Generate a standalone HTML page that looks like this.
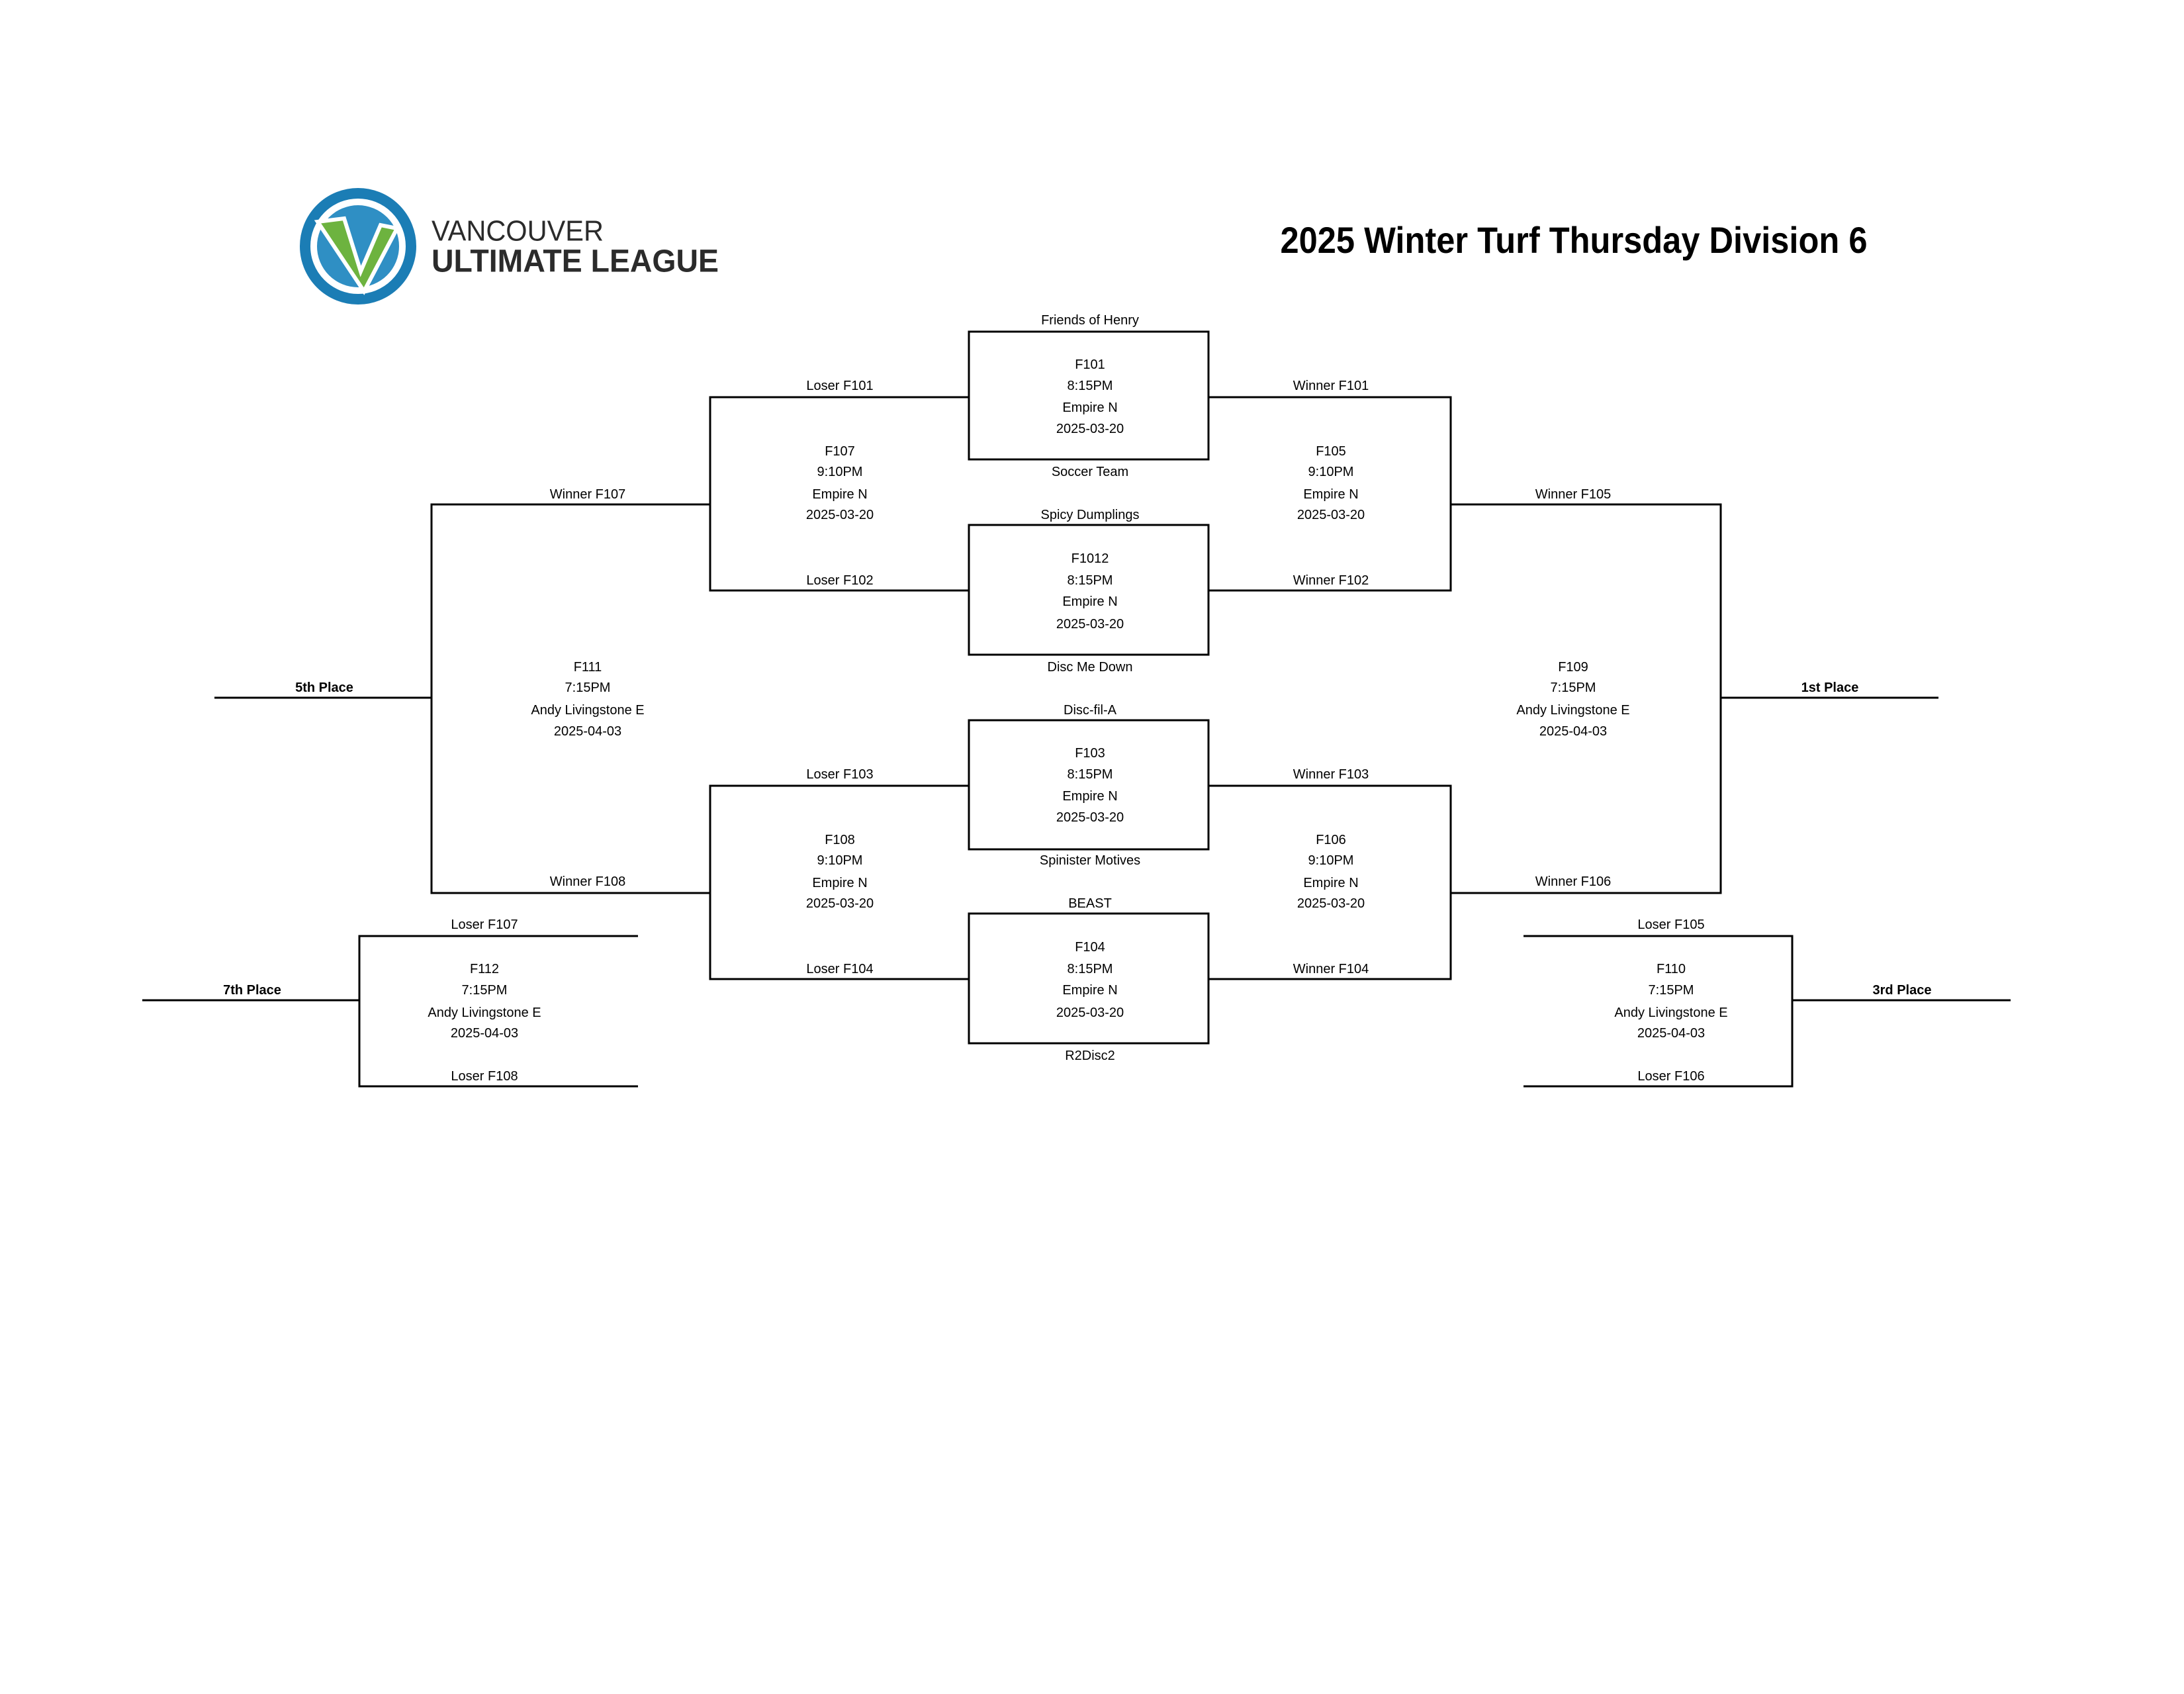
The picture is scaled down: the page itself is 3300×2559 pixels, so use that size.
<!DOCTYPE html>
<html><head><meta charset="utf-8"><style>
html,body{margin:0;padding:0;background:#fff;width:3300px;height:2559px;overflow:hidden}
svg{display:block}
text{font-family:"Liberation Sans",sans-serif;font-size:20px;fill:#000;text-anchor:middle;dominant-baseline:central}
.b{font-weight:bold}
</style></head><body>
<svg width="3300" height="2559" viewBox="0 0 3300 2559" xmlns="http://www.w3.org/2000/svg">
<!-- logo -->
<circle cx="541" cy="372" r="80" fill="none" stroke="#1b7db5" stroke-width="16"/>
<circle cx="541" cy="372" r="62" fill="#2f8fc4"/>
<path d="M480 335 L520 330 L545 410 L575 340 L600 345 L550 440 Z" fill="#6db33f" stroke="#fff" stroke-width="6"/>
<text x="652" y="349" style="font-size:44px;text-anchor:start;fill:#2b2b2b" textLength="260" lengthAdjust="spacingAndGlyphs">VANCOUVER</text>
<text x="652" y="395" class="b" style="font-size:48px;text-anchor:start;fill:#2b2b2b" textLength="434" lengthAdjust="spacingAndGlyphs">ULTIMATE LEAGUE</text>
<!-- title -->
<text x="2378" y="382" class="b" style="font-size:56px;dominant-baseline:auto" textLength="887" lengthAdjust="spacingAndGlyphs">2025 Winter Turf Thursday Division 6</text>

<g fill="none" stroke="#000" stroke-width="3">
<rect x="1464" y="501" width="362" height="193"/>
<rect x="1464" y="793" width="362" height="196"/>
<rect x="1464" y="1088" width="362" height="195"/>
<rect x="1464" y="1380" width="362" height="196"/>
<polyline points="1464,600 1073,600 1073,892 1464,892"/>
<polyline points="1826,600 2192,600 2192,892 1826,892"/>
<polyline points="1464,1187 1073,1187 1073,1479 1464,1479"/>
<polyline points="1826,1187 2192,1187 2192,1479 1826,1479"/>
<polyline points="1073,762 652,762 652,1349 1073,1349"/>
<line x1="324" y1="1054" x2="652" y2="1054"/>
<polyline points="2192,762 2600,762 2600,1349 2192,1349"/>
<line x1="2600" y1="1054" x2="2929" y2="1054"/>
<polyline points="964,1414 543,1414 543,1641 964,1641"/>
<line x1="215" y1="1511" x2="543" y2="1511"/>
<polyline points="2302,1414 2708,1414 2708,1641 2302,1641"/>
<line x1="2708" y1="1511" x2="3038" y2="1511"/>
</g>

<text x="1647" y="484">Friends of Henry</text>
<text x="1647" y="551">F101</text><text x="1647" y="583">8:15PM</text><text x="1647" y="616">Empire N</text><text x="1647" y="648">2025-03-20</text>
<text x="1647" y="713">Soccer Team</text>
<text x="1647" y="778">Spicy Dumplings</text>
<text x="1647" y="844">F1012</text><text x="1647" y="877">8:15PM</text><text x="1647" y="909">Empire N</text><text x="1647" y="943">2025-03-20</text>
<text x="1647" y="1008">Disc Me Down</text>
<text x="1647" y="1073">Disc-fil-A</text>
<text x="1647" y="1138">F103</text><text x="1647" y="1170">8:15PM</text><text x="1647" y="1203">Empire N</text><text x="1647" y="1235">2025-03-20</text>
<text x="1647" y="1300">Spinister Motives</text>
<text x="1647" y="1365">BEAST</text>
<text x="1647" y="1431">F104</text><text x="1647" y="1464">8:15PM</text><text x="1647" y="1496">Empire N</text><text x="1647" y="1530">2025-03-20</text>
<text x="1647" y="1595">R2Disc2</text>

<text x="1269" y="583">Loser F101</text><text x="1269" y="877">Loser F102</text>
<text x="1269" y="682">F107</text><text x="1269" y="713">9:10PM</text><text x="1269" y="747">Empire N</text><text x="1269" y="778">2025-03-20</text>
<text x="2011" y="583">Winner F101</text><text x="2011" y="877">Winner F102</text>
<text x="2011" y="682">F105</text><text x="2011" y="713">9:10PM</text><text x="2011" y="747">Empire N</text><text x="2011" y="778">2025-03-20</text>

<text x="1269" y="1170">Loser F103</text><text x="1269" y="1464">Loser F104</text>
<text x="1269" y="1269">F108</text><text x="1269" y="1300">9:10PM</text><text x="1269" y="1334">Empire N</text><text x="1269" y="1365">2025-03-20</text>
<text x="2011" y="1170">Winner F103</text><text x="2011" y="1464">Winner F104</text>
<text x="2011" y="1269">F106</text><text x="2011" y="1300">9:10PM</text><text x="2011" y="1334">Empire N</text><text x="2011" y="1365">2025-03-20</text>

<text x="888" y="747">Winner F107</text><text x="888" y="1332">Winner F108</text>
<text x="888" y="1008">F111</text><text x="888" y="1039">7:15PM</text><text x="888" y="1073">Andy Livingstone E</text><text x="888" y="1105">2025-04-03</text>
<text x="490" y="1039" class="b">5th Place</text>
<text x="2377" y="747">Winner F105</text><text x="2377" y="1332">Winner F106</text>
<text x="2377" y="1008">F109</text><text x="2377" y="1039">7:15PM</text><text x="2377" y="1073">Andy Livingstone E</text><text x="2377" y="1105">2025-04-03</text>
<text x="2765" y="1039" class="b">1st Place</text>

<text x="732" y="1397">Loser F107</text><text x="732" y="1626">Loser F108</text>
<text x="732" y="1464">F112</text><text x="732" y="1496">7:15PM</text><text x="732" y="1530">Andy Livingstone E</text><text x="732" y="1561">2025-04-03</text>
<text x="381" y="1496" class="b">7th Place</text>
<text x="2525" y="1397">Loser F105</text><text x="2525" y="1626">Loser F106</text>
<text x="2525" y="1464">F110</text><text x="2525" y="1496">7:15PM</text><text x="2525" y="1530">Andy Livingstone E</text><text x="2525" y="1561">2025-04-03</text>
<text x="2874" y="1496" class="b">3rd Place</text>
</svg>
</body></html>
